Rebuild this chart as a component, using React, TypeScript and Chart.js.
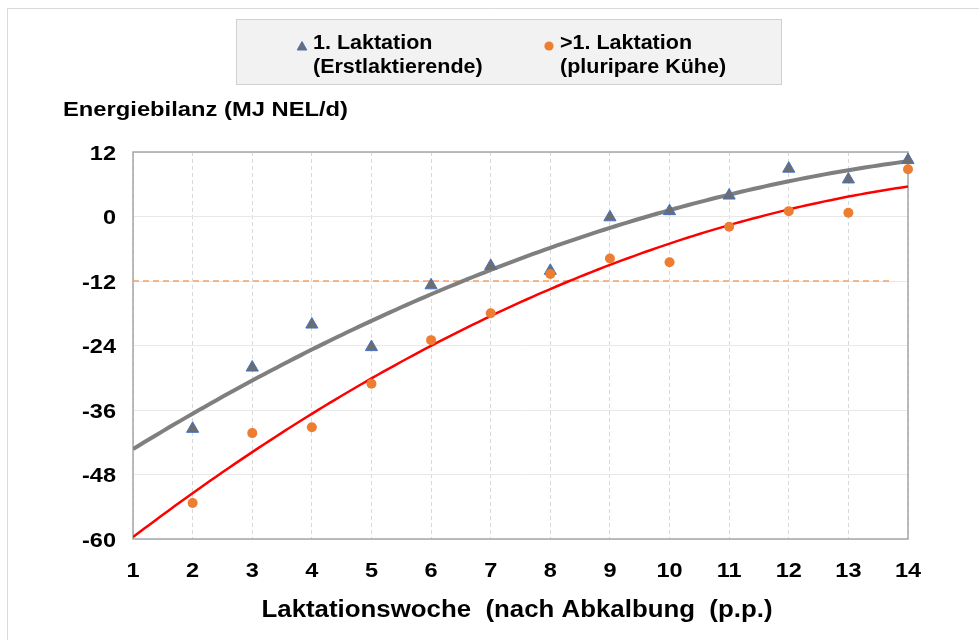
import React, { useEffect, useRef } from "react";
import { Chart, registerables } from "chart.js";

Chart.register(...registerables);

// ---------- data ----------
const weeks = [2, 3, 4, 5, 6, 7, 8, 9, 10, 11, 12, 13, 14];
const firstLactation = [-39.5, -28.1, -20.1, -24.3, -12.8, -9.2, -10.1, -0.15, 1.0, 3.9, 8.9, 6.9, 10.5];
const laterLactation = [-53.3, -40.3, -39.2, -31.1, -23.0, -18.0, -10.7, -7.8, -8.5, -1.9, 1.0, 0.7, 8.8];
const xRange = [1, 14];
const yRange = [-60, 12];
const yStep = 12;
const thresholdValue = -12;
const thresholdRange = [1, 13.75];
const legendFirst = ["1. Laktation", "(Erstlaktierende)"];
const legendLater = [">1. Laktation", "(pluripare Kühe)"];
const yTitle = "Energiebilanz (MJ NEL/d)";
const xTitle = "Laktationswoche  (nach Abkalbung  (p.p.)";

// ---------- quadratic least squares trend (like an Excel polynomial trendline) ----------
function quadFit(xs: number[], ys: number[]) {
  let s0 = 0, s1 = 0, s2 = 0, s3 = 0, s4 = 0, t0 = 0, t1 = 0, t2 = 0;
  for (let i = 0; i < xs.length; i++) {
    const x = xs[i], y = ys[i];
    s0 += 1; s1 += x; s2 += x * x; s3 += x * x * x; s4 += x * x * x * x;
    t0 += y; t1 += x * y; t2 += x * x * y;
  }
  const M = [
    [s0, s1, s2, t0],
    [s1, s2, s3, t1],
    [s2, s3, s4, t2],
  ];
  for (let c = 0; c < 3; c++) {
    let p = c;
    for (let r = c + 1; r < 3; r++) if (Math.abs(M[r][c]) > Math.abs(M[p][c])) p = r;
    [M[c], M[p]] = [M[p], M[c]];
    for (let r = 0; r < 3; r++) {
      if (r === c) continue;
      const f = M[r][c] / M[c][c];
      for (let k = c; k < 4; k++) M[r][k] -= f * M[c][k];
    }
  }
  const a = M[0][3] / M[0][0], b = M[1][3] / M[1][1], cc = M[2][3] / M[2][2];
  return (x: number) => a + b * x + cc * x * x;
}

function trendPoints(xs: number[], ys: number[]) {
  const f = quadFit(xs, ys);
  const pts: { x: number; y: number }[] = [];
  const n = 130;
  for (let i = 0; i <= n; i++) {
    const x = xRange[0] + ((xRange[1] - xRange[0]) * i) / n;
    pts.push({ x, y: f(x) });
  }
  return pts;
}

const FONT = '"Liberation Sans", Arial, sans-serif';

function drawText(
  ctx: CanvasRenderingContext2D,
  text: string,
  x: number,
  y: number,
  size: number,
  sx: number,
  align: "left" | "center" | "right",
  targetWidth?: number
) {
  ctx.save();
  ctx.font = `bold ${size}px ${FONT}`;
  ctx.textBaseline = "alphabetic";
  ctx.textAlign = "left";
  ctx.fillStyle = "#000000";
  const raw = ctx.measureText(text).width;
  const s = targetWidth ? targetWidth / raw : sx;
  const w = raw * s;
  const left = align === "center" ? x - w / 2 : align === "right" ? x - w : x;
  ctx.translate(left, y);
  ctx.scale(s, 1);
  ctx.fillText(text, 0, 0);
  ctx.restore();
}

const decorPlugin = {
  id: "decor",
  beforeDraw(chart: any) {
    const ctx: CanvasRenderingContext2D = chart.ctx;
    ctx.save();
    ctx.fillStyle = "#ffffff";
    ctx.fillRect(0, 0, chart.width, chart.height);
    ctx.strokeStyle = "#D9D9D9";
    ctx.lineWidth = 1;
    ctx.beginPath();
    ctx.moveTo(7.5, chart.height);
    ctx.lineTo(7.5, 8.5);
    ctx.lineTo(chart.width, 8.5);
    ctx.stroke();
    ctx.restore();
  },
  beforeDatasetsDraw(chart: any) {
    const ctx: CanvasRenderingContext2D = chart.ctx;
    const a = chart.chartArea;
    ctx.save();
    ctx.strokeStyle = "#A6A6A6";
    ctx.lineWidth = 1.5;
    ctx.strokeRect(a.left, a.top, a.right - a.left, a.bottom - a.top);
    ctx.restore();
  },
  afterDraw(chart: any) {
    const ctx: CanvasRenderingContext2D = chart.ctx;
    const xs = chart.scales.x;
    const ys = chart.scales.y;
    // tick labels
    xs.ticks.forEach((t: any) => {
      const px = xs.getPixelForValue(t.value);
      drawText(ctx, String(t.label), px, 577, 21, 1.12, "center");
    });
    ys.ticks.forEach((t: any) => {
      const py = ys.getPixelForValue(t.value);
      drawText(ctx, String(t.label), 116, py + 7.5, 21, 1.12, "right");
    });
    // axis titles
    drawText(ctx, yTitle, 63, 116, 21, 1, "left", 285);
    drawText(ctx, xTitle, 517, 617, 23, 1, "center", 511);

    // legend
    ctx.save();
    ctx.fillStyle = "#F2F2F2";
    ctx.fillRect(236, 19, 545, 65);
    ctx.strokeStyle = "#D0D0D0";
    ctx.lineWidth = 1;
    ctx.strokeRect(236.5, 19.5, 545, 65);
    // triangle marker
    ctx.beginPath();
    ctx.moveTo(302, 41.5);
    ctx.lineTo(306.8, 50);
    ctx.lineTo(297.2, 50);
    ctx.closePath();
    ctx.fillStyle = "#6D6D6D";
    ctx.fill();
    ctx.strokeStyle = "#4472C4";
    ctx.lineWidth = 1;
    ctx.stroke();
    // circle marker
    ctx.beginPath();
    ctx.arc(549, 46, 4.6, 0, Math.PI * 2);
    ctx.fillStyle = "#ED7D31";
    ctx.fill();
    ctx.restore();
    drawText(ctx, legendFirst[0], 313, 49, 20, 1.075, "left");
    drawText(ctx, legendFirst[1], 313, 73, 20, 1.075, "left");
    drawText(ctx, legendLater[0], 560, 49, 20, 1.075, "left");
    drawText(ctx, legendLater[1], 560, 73, 20, 1.075, "left");
  },
};

export default function App() {
  const ref = useRef<HTMLCanvasElement | null>(null);

  useEffect(() => {
    document.body.style.margin = "0";
    const canvas = ref.current;
    if (!canvas) return;

    const firstPts = weeks.map((w, i) => ({ x: w, y: firstLactation[i] }));
    const laterPts = weeks.map((w, i) => ({ x: w, y: laterLactation[i] }));

    const chart = new Chart(canvas, {
      type: "scatter",
      data: {
        datasets: [
          {
            label: legendFirst.join(" "),
            data: firstPts,
            pointStyle: "triangle",
            pointRadius: 7,
            backgroundColor: "#6D6D6D",
            borderColor: "#4472C4",
            borderWidth: 1,
            showLine: false,
            clip: false,
            order: 1,
          },
          {
            label: legendLater.join(" "),
            data: laterPts,
            pointStyle: "circle",
            pointRadius: 5,
            backgroundColor: "#ED7D31",
            borderColor: "#ED7D31",
            borderWidth: 0,
            showLine: false,
            clip: false,
            order: 0,
          },
          {
            label: "Trend 1. Laktation",
            data: trendPoints(weeks, firstLactation),
            showLine: true,
            pointRadius: 0,
            borderColor: "#7F7F7F",
            borderWidth: 4,
            tension: 0,
            order: 2,
          },
          {
            label: "Trend >1. Laktation",
            data: trendPoints(weeks, laterLactation),
            showLine: true,
            pointRadius: 0,
            borderColor: "#FF0000",
            borderWidth: 2.5,
            tension: 0,
            order: 3,
          },
          {
            label: "Grenzwert",
            data: thresholdRange.map((x) => ({ x, y: thresholdValue })),
            showLine: true,
            pointRadius: 0,
            borderColor: "#F2A06A",
            borderWidth: 1.5,
            borderDash: [6, 4],
            order: 4,
          },
        ],
      } as any,
      options: {
        responsive: false,
        devicePixelRatio: 1,
        animation: false,
        layout: { padding: { left: 133, right: 71, top: 152, bottom: 101 } },
        plugins: {
          legend: { display: false },
          tooltip: { enabled: false },
          title: { display: false },
        },
        scales: {
          x: {
            type: "linear",
            min: xRange[0],
            max: xRange[1],
            ticks: { stepSize: 1, display: false },
            grid: { color: "#D9D9D9", lineWidth: 1, drawTicks: false },
            border: { display: false, dash: [4, 3] },
            afterFit: (s: any) => {
              s.height = 0;
            },
          },
          y: {
            type: "linear",
            min: yRange[0],
            max: yRange[1],
            ticks: { stepSize: yStep, display: false },
            grid: { color: "#E8E8E8", lineWidth: 1, drawTicks: false },
            border: { display: false },
            afterFit: (s: any) => {
              s.width = 0;
            },
          },
        },
      } as any,
      plugins: [decorPlugin],
    });

    return () => chart.destroy();
  }, []);

  return <canvas ref={ref} width={979} height={640} style={{ display: "block" }} />;
}
